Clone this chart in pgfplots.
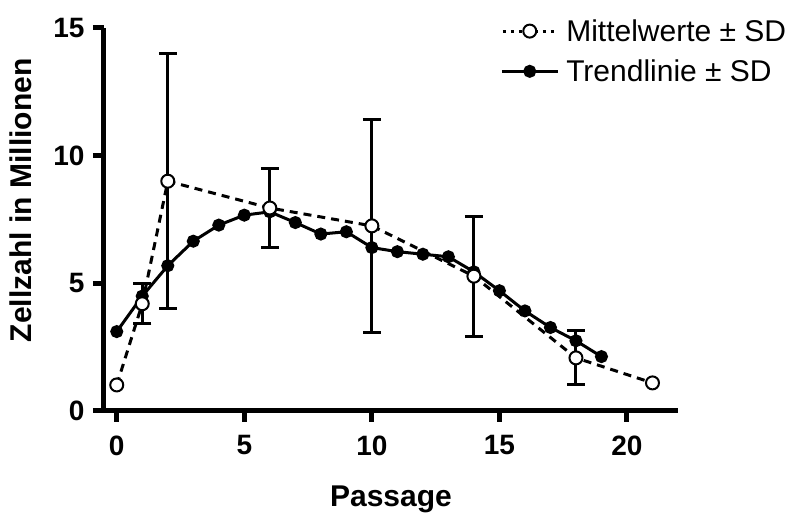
\documentclass[border=0pt]{standalone}
\usepackage{fontspec}
\setmainfont{Liberation Sans}
\usepackage{pgfplots}
\pgfplotsset{compat=1.18}

\begin{document}
\begin{tikzpicture}
\begin{axis}[
  name=ax,
  scale only axis,
  width=574pt, height=383pt,
  xmin=-0.5, xmax=22, ymin=0, ymax=15,
  axis lines*=left,
  axis line style={line width=5pt},
  tick style={line width=5pt, black},
  tick align=outside,
  major tick length=11pt,
  xtick={0,5,10,15,20},
  ytick={0,5,10,15},
  /pgf/number format/assume math mode=true,
  ticklabel style={font=\bfseries\fontsize{28}{28}\selectfont},
  xticklabel shift=10pt,
  yticklabel shift=5pt,
  xlabel style={font=\bfseries\fontsize{30}{30}\selectfont},
  ylabel style={font=\bfseries\fontsize{30}{30}\selectfont, at={(ticklabel cs:0.55)}},
  xlabel={Passage},
  ylabel={Zellzahl in Millionen},
  xlabel shift=24pt,
  ylabel shift=15pt,
  clip=false,
  reverse legend,
  legend cell align=left,
  legend style={draw=none, fill=none, at={(0.69,1.028)}, anchor=north west,
    font=\fontsize{30}{30}\selectfont, row sep=13pt, inner sep=0pt},
  legend image code/.code={
    \draw[#1, mark repeat=2, mark phase=2] plot coordinates {(0pt,0pt) (28pt,0pt) (56pt,0pt)};
  },
]

% Trendlinie
\addplot[black, line width=3pt, mark=*, mark size=5pt] coordinates {
  (0,3.11) (1,4.5) (2,5.69) (3,6.65) (4,7.28) (5,7.67) (6,7.8) (7,7.38)
  (8,6.93) (9,7.02) (10,6.4) (11,6.24) (12,6.14) (13,6.04) (14,5.45)
  (15,4.71) (16,3.92) (17,3.27) (18,2.75) (19,2.13)
};
\addlegendentry{\hspace{5pt}Trendlinie ± SD}

% SD der Mittelwerte
\addplot[forget plot, only marks, mark=none, black,
  error bars/.cd, y dir=both, y explicit,
  error mark=-,
  error bar style={black, solid, line width=3pt},
  error mark options={rotate=90, black, solid, line width=3pt, mark size=9pt}]
  coordinates {
  (1,4.2) +- (0,0.78)
  (2,9.0) +- (0,5.0)
  (6,7.95) +- (0,1.55)
  (10,7.25) +- (0,4.17)
  (14,5.28) +- (0,2.35)
  (18,2.08) +- (0,1.06)
};

% Mittelwerte
\addplot[black, line width=3pt, dash pattern=on 8pt off 6pt,
  mark=*, mark size=6.5pt, mark options={solid, fill=white, line width=2pt},
  legend image post style={line width=3pt, dash pattern=on 3pt off 5pt, dash phase=-1pt}] coordinates {
  (0,1.02) (1,4.2) (2,9.0) (6,7.95) (10,7.25) (14,5.28) (18,2.08) (21,1.1)
};
\addlegendentry{\hspace{5pt}Mittelwerte ± SD}

\end{axis}
\pgfresetboundingbox
\path[use as bounding box] ([shift={(-104pt,-107pt)}]ax.south west) rectangle ([shift={(115pt,28pt)}]ax.north east);
\end{tikzpicture}
\end{document}
